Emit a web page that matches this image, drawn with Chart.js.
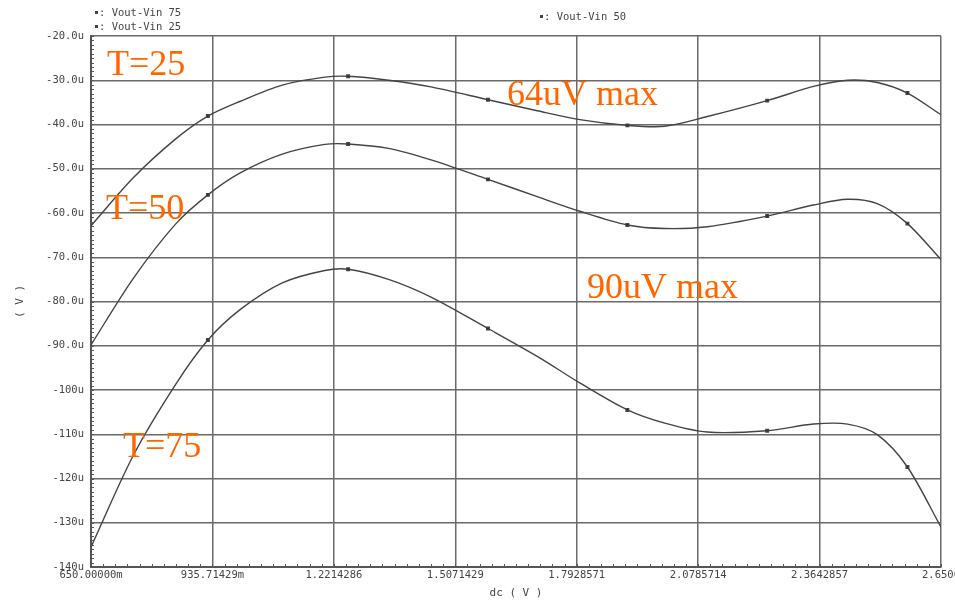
<!DOCTYPE html>
<html>
<head>
<meta charset="utf-8">
<script src="https://cdn.jsdelivr.net/npm/chart.js@4.4.1/dist/chart.umd.min.js"></script>
<style>
  html, body { margin: 0; padding: 0; background: #fff; }
  #wrap { width: 955px; height: 602px; }
</style>
</head>
<body>
<div id="wrap"><canvas id="dcSweep" width="955" height="602"></canvas></div>
<script>
// sweep points (V) and Vout-Vin for each temperature (uV)
const dcVolts = [0.65, 0.75, 0.85, 0.925, 1.0, 1.1, 1.2, 1.255, 1.35, 1.45, 1.584,
                 1.7, 1.8, 1.912, 2.0, 2.1, 2.241, 2.35, 2.43, 2.5, 2.571, 2.65];
const vout25 = [-62.9, -52.0, -43.2, -38.1, -34.8, -31.1, -29.3, -29.1, -30.0, -31.5, -34.4,
                -36.9, -38.9, -40.2, -40.4, -38.2, -34.6, -31.4, -30.0, -30.5, -32.9, -37.8];
const vout50 = [-89.8, -74.7, -62.4, -55.9, -51.0, -46.7, -44.5, -44.4, -45.4, -48.0, -52.4,
                -56.3, -59.6, -62.7, -63.5, -63.1, -60.7, -58.2, -56.9, -57.9, -62.4, -70.5];
const vout75 = [-135.5, -114.7, -98.6, -88.7, -81.9, -75.8, -73.0, -72.7, -75.0, -79.0, -86.1,
                -92.4, -98.4, -104.5, -107.5, -109.5, -109.2, -107.7, -107.7, -110.1, -117.4, -131.0];

// sweep points that carry a trace symbol
const markerDc = [0.925, 1.255, 1.584, 1.912, 2.241, 2.571];

const xTickValues = [0.65, 0.9357143, 1.2214286, 1.5071429, 1.7928571, 2.0785714, 2.3642857, 2.65];
const xTickLabels = ['650.00000m', '935.71429m', '1.2214286', '1.5071429',
                     '1.7928571', '2.0785714', '2.3642857', '2.6500'];

const legendNames = ['Vout-Vin 75', 'Vout-Vin 25', 'Vout-Vin 50'];

const notes = [
  { text: 'T=25', x: 107, y: 75 },
  { text: '64uV max', x: 507, y: 105 },
  { text: 'T=50', x: 106, y: 219 },
  { text: '90uV max', x: 587, y: 298 },
  { text: 'T=75', x: 123, y: 457 }
];

const traceColor = '#444';
const gridColor = '#6a6a6a';
const monoFont = { family: 'DejaVu Sans Mono', size: 10.5 };

function toPoints(ys) {
  return dcVolts.map((x, i) => ({ x: x, y: ys[i] }));
}

function trace(label, ys) {
  return {
    label: label,
    data: toPoints(ys),
    borderColor: traceColor,
    backgroundColor: '#222',
    borderWidth: 1.4,
    tension: 0.3,
    pointStyle: 'rect',
    pointRadius: ctx => (ctx.raw && markerDc.includes(ctx.raw.x)) ? 1.8 : 0,
    pointHoverRadius: 0,
    fill: false
  };
}

// small minor ticks along the left and bottom axes
const minorTicks = {
  id: 'minorTicks',
  afterDraw(chart) {
    const c = chart.ctx;
    const xs = chart.scales.x, ys = chart.scales.y;
    const area = chart.chartArea;
    c.save();
    c.strokeStyle = '#555';
    c.lineWidth = 1;
    c.beginPath();
    for (let v = -140; v <= -20; v += 1) {
      const py = Math.round(ys.getPixelForValue(v)) + 0.5;
      c.moveTo(area.left, py);
      c.lineTo(area.left + 3, py);
    }
    for (let k = 0; k <= 70; k++) {
      const px = Math.round(xs.getPixelForValue(0.65 + k * 2 / 70)) + 0.5;
      c.moveTo(px, area.bottom);
      c.lineTo(px, area.bottom - 3);
    }
    c.stroke();
    c.restore();
  }
};

// trace legend above the plot and the orange notes inside it
const captions = {
  id: 'captions',
  afterDraw(chart) {
    const c = chart.ctx;
    c.save();
    c.fillStyle = '#444';
    c.font = '10.5px "DejaVu Sans Mono"';
    c.textBaseline = 'middle';
    const spots = [[95, 13], [95, 27], [540, 17]];
    spots.forEach((s, i) => {
      c.fillRect(s[0], s[1] - 2, 3, 3);
      c.fillText(': ' + legendNames[i], s[0] + 4, s[1]);
    });

    c.fillStyle = '#ff6600';
    c.font = '36px "Liberation Serif"';
    c.textBaseline = 'alphabetic';
    notes.forEach(n => c.fillText(n.text, n.x, n.y));
    c.restore();
  }
};

new Chart(document.getElementById('dcSweep'), {
  type: 'line',
  data: {
    datasets: [
      trace('Vout-Vin 25', vout25),
      trace('Vout-Vin 50', vout50),
      trace('Vout-Vin 75', vout75)
    ]
  },
  options: {
    responsive: false,
    animation: false,
    layout: { padding: { top: 36, right: 14, left: 0, bottom: 0 } },
    plugins: {
      legend: { display: false },
      tooltip: { enabled: false }
    },
    scales: {
      x: {
        type: 'linear',
        min: 0.65,
        max: 2.65,
        afterBuildTicks: scale => {
          scale.ticks = xTickValues.map(v => ({ value: v }));
        },
        afterFit: scale => {
          scale.height = 35;
          scale.paddingLeft = 0;
          scale.paddingRight = 0;
        },
        ticks: {
          color: '#444',
          font: monoFont,
          padding: 2,
          maxRotation: 0,
          autoSkip: false,
          callback: (v, i) => xTickLabels[i]
        },
        grid: { color: gridColor, lineWidth: 1.5, drawTicks: false },
        border: { color: '#555', width: 2 },
        title: {
          display: true,
          text: 'dc ( V )',
          color: '#444',
          font: { family: 'DejaVu Sans Mono', size: 11 },
          padding: { top: 0, bottom: 2 }
        }
      },
      y: {
        min: -140,
        max: -20,
        afterFit: scale => {
          scale.width = 91;
          scale.paddingTop = 0;
          scale.paddingBottom = 0;
        },
        ticks: {
          stepSize: 10,
          color: '#444',
          font: monoFont,
          padding: 7,
          callback: v => (v <= -100 ? v + 'u' : v.toFixed(1) + 'u')
        },
        grid: { color: gridColor, lineWidth: 1.5, drawTicks: false },
        border: { color: '#555', width: 2 },
        title: {
          display: true,
          text: '( V )',
          color: '#444',
          font: { family: 'DejaVu Sans Mono', size: 11 },
          padding: { top: 14, bottom: 0 }
        }
      }
    }
  },
  plugins: [minorTicks, captions]
});
</script>
</body>
</html>
